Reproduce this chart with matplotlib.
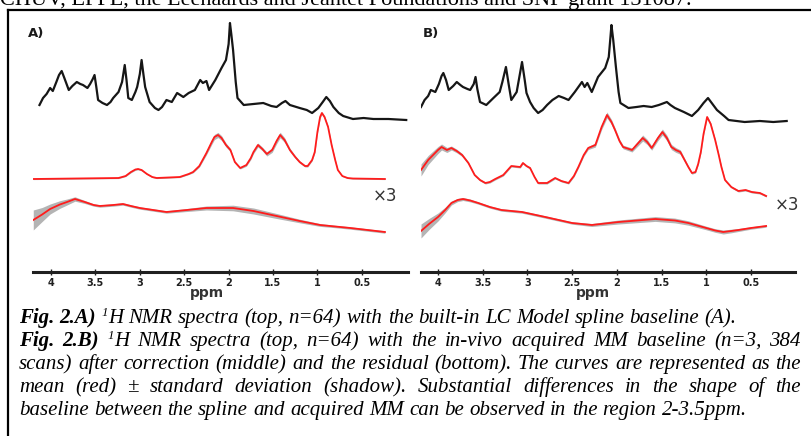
import matplotlib.pyplot as plt

W, H = 812, 436

# ---- panel A (LCModel spline baseline) ----
a_top_ppm = [4.13, 4.09, 4.05, 4.01, 3.98, 3.94, 3.91, 3.88, 3.85, 3.80, 3.76, 3.71, 3.67, 3.64,
             3.59, 3.56, 3.53, 3.51, 3.49, 3.47, 3.42, 3.37, 3.33, 3.30, 3.24, 3.20, 3.17, 3.15,
             3.13, 3.09, 3.05, 3.03, 3.00, 2.98, 2.96, 2.94, 2.89, 2.83, 2.79, 2.75, 2.70, 2.64,
             2.58, 2.51, 2.45, 2.38, 2.32, 2.29, 2.25, 2.22, 2.15, 2.08, 2.03, 2.00, 1.985, 1.97,
             1.95, 1.92, 1.90, 1.83, 1.72, 1.61, 1.52, 1.46, 1.40, 1.36, 1.31, 1.20, 1.12, 1.06,
             0.99, 0.94, 0.90, 0.86, 0.82, 0.76, 0.71, 0.60, 0.48, 0.37, 0.20, 0.00]
a_top_int = [167, 174, 178, 184, 181, 190, 197, 201, 194, 182, 186, 190, 188, 187,
             184, 188, 193, 197, 185, 172, 169, 167, 170, 174, 180, 190, 207, 192,
             174, 172, 180, 185, 198, 212, 198, 185, 170, 164, 162, 165, 172, 170,
             179, 175, 179, 182, 192, 189, 191, 182, 192, 204, 212, 228, 249, 238,
             222, 190, 174, 167, 168, 169, 166, 165, 169, 171, 167, 164, 162, 159,
             164, 170, 175, 171, 165, 159, 156, 153, 154, 153, 153, 152]

a_mid_ppm = [4.20, 3.24, 3.16, 3.10, 3.05, 3.02, 2.98, 2.92, 2.86, 2.81, 2.55, 2.45, 2.40, 2.33,
             2.25, 2.19, 2.16, 2.12, 2.08, 2.03, 1.98, 1.93, 1.87, 1.80, 1.75, 1.72, 1.67, 1.62,
             1.57, 1.51, 1.46, 1.42, 1.37, 1.31, 1.25, 1.20, 1.14, 1.11, 1.06, 1.03, 1.00, 0.97,
             0.95, 0.92, 0.88, 0.84, 0.80, 0.77, 0.72, 0.66, 0.60, 0.24]
a_mid_int = [93, 94, 96, 100, 102.5, 103, 102, 98, 95, 94, 95, 98, 100, 106,
             119, 130, 135, 137, 134, 127, 122, 110, 104, 107, 114, 120, 127, 123,
             118, 122, 131, 137, 132, 122, 115, 110, 106, 106, 112, 120, 140, 155,
             159, 155, 145, 127, 112, 102, 96, 94, 93.5, 93]
a_mid_sd = [0.6, 0.6, 0.6, 0.8, 0.8, 0.8, 0.8, 0.6, 0.6, 0.6, 0.6, 0.6, 0.8, 1.2,
            1.8, 2.4, 2.6, 2.6, 2.4, 2.0, 1.6, 1.2, 1.0, 1.2, 1.5, 1.6, 2.0, 1.8,
            2.0, 2.4, 2.8, 2.8, 2.4, 1.8, 1.4, 1.2, 1.0, 1.0, 1.0, 1.2, 1.4, 1.4,
            1.4, 1.4, 1.2, 1.0, 0.8, 0.6, 0.6, 0.6, 0.6, 0.6]

a_res_ppm = [4.20, 4.10, 4.01, 3.90, 3.82, 3.73, 3.62, 3.52, 3.45, 3.30, 3.19, 3.10, 3.00, 2.85,
             2.70, 2.47, 2.25, 1.95, 1.72, 1.46, 1.20, 0.97, 0.80, 0.63, 0.24]
a_res_int = [52, 57.5, 63, 67.5, 70, 73, 70, 67, 66, 67, 68, 66, 64, 62,
             60, 62, 64, 64, 61, 56, 51, 47, 45.5, 44, 40]
a_res_sd = [10, 7, 5, 3.8, 3, 2.2, 1.5, 1.2, 1.2, 1.2, 1.2, 1.2, 1.2, 1.2,
            1.2, 1.5, 2.0, 2.8, 3.0, 2.5, 1.8, 1.4, 1.2, 1.2, 1.2]

# ---- panel B (acquired MM baseline) ----
b_top_ppm = [4.19, 4.15, 4.11, 4.08, 4.03, 3.99, 3.96, 3.94, 3.91, 3.88, 3.83, 3.79, 3.75, 3.72,
             3.67, 3.64, 3.60, 3.58, 3.56, 3.53, 3.46, 3.38, 3.31, 3.28, 3.24, 3.21, 3.18, 3.12,
             3.09, 3.06, 3.03, 3.01, 2.97, 2.93, 2.88, 2.83, 2.78, 2.72, 2.65, 2.59, 2.54, 2.47,
             2.39, 2.36, 2.33, 2.28, 2.21, 2.13, 2.09, 2.07, 2.06, 2.04, 2.01, 1.98, 1.96, 1.87,
             1.78, 1.70, 1.61, 1.53, 1.44, 1.40, 1.35, 1.25, 1.16, 1.09, 1.03, 0.98, 0.93, 0.88,
             0.80, 0.75, 0.66, 0.57, 0.40, 0.25, 0.10]
b_top_int = [165, 172, 176, 182, 180, 188, 196, 199, 192, 182, 186, 190, 187, 185,
             183, 182, 188, 195, 183, 170, 167, 174, 180, 190, 205, 188, 172, 180,
             195, 210, 192, 179, 170, 164, 159, 162, 167, 172, 176, 174, 172, 180,
             190, 185, 189, 180, 195, 204, 215, 236, 247, 232, 205, 180, 169, 164,
             165, 166, 165, 167, 170, 167, 164, 160, 156, 162, 169, 174, 168, 162,
             156, 152, 151, 150, 151, 150, 151]

b_mid_ppm = [4.19, 4.11, 4.00, 3.96, 3.90, 3.85, 3.79, 3.73, 3.66, 3.59, 3.53, 3.47, 3.42, 3.36,
             3.27, 3.18, 3.08, 3.05, 3.01, 2.97, 2.92, 2.88, 2.78, 2.69, 2.62, 2.54, 2.48, 2.43,
             2.37, 2.32, 2.24, 2.17, 2.11, 2.06, 2.02, 1.97, 1.93, 1.83, 1.76, 1.71, 1.66, 1.61,
             1.54, 1.49, 1.44, 1.39, 1.34, 1.29, 1.20, 1.16, 1.12, 1.09, 1.06, 1.03, 0.99, 0.95,
             0.90, 0.86, 0.83, 0.79, 0.72, 0.64, 0.56, 0.49, 0.40, 0.33]
b_mid_int = [102, 112, 122, 125, 122, 124, 121, 117, 109, 97, 92, 89, 90, 93,
             97, 106, 105, 109, 106, 104, 95, 89, 89, 94, 91, 89, 96, 105,
             117, 124, 127, 145, 157, 150, 142, 131, 125, 122, 129, 134, 130, 124,
             134, 140, 134, 125, 122, 120, 105, 99, 100, 108, 120, 138, 155, 148,
             132, 117, 105, 92, 85, 81, 82, 80, 79, 76]
b_mid_sd = [6, 4.5, 3.5, 3, 2.5, 2, 1.8, 1.5, 1.2, 1, 1, 1, 1, 1,
            1, 1, 1, 1, 1, 1, 1, 1, 1, 1, 1, 1, 1, 1.2,
            1.4, 1.6, 2, 2.6, 3, 2.6, 2.2, 2.0, 1.8, 2, 2.6, 3, 2.6, 2.2,
            2.6, 3, 2.8, 2.6, 2.4, 2.2, 1.4, 1.2, 1.0, 1, 1.1, 1.2, 1.4, 1.4,
            1.2, 1.0, 1, 1, 1, 1, 1, 1, 1, 1]

b_res_ppm = [4.19, 4.10, 4.00, 3.92, 3.85, 3.78, 3.72, 3.64, 3.55, 3.42, 3.29, 3.06, 2.80, 2.50,
             2.28, 1.98, 1.57, 1.35, 1.20, 1.00, 0.90, 0.81, 0.72, 0.64, 0.50, 0.33]
b_res_int = [41, 48, 55, 62, 69, 72, 73, 71.5, 69, 65, 62, 60, 55, 49,
             47, 50, 53, 51.5, 49, 44, 41.5, 40, 41, 42, 44, 46]
b_res_sd = [7, 5.5, 4, 2.8, 2, 1.6, 1.5, 1.4, 1.2, 1.2, 1.2, 1.2, 1.2, 1.2,
            1.5, 2.0, 2.4, 2.4, 2.2, 1.8, 1.8, 2.0, 1.8, 1.5, 1.2, 1.2]

tick_vals = [4, 3.5, 3, 2.5, 2, 1.5, 1, 0.5]
tick_text = ["4", "3.5", "3", "2.5", "2", "1.5", "1", "0.5"]

header = "CHUV, EPFL, the Leenaards and Jeantet Foundations and SNF grant 131087."
caption = [
    "Fig. 2.A) ¹H NMR spectra (top, n=64) with the built-in LC Model spline baseline (A).",
    "Fig. 2.B) ¹H NMR spectra (top, n=64) with the in-vivo acquired MM baseline (n=3, 384",
    "scans) after correction (middle) and the residual (bottom). The curves are represented as the",
    "mean (red) ± standard deviation (shadow). Substantial differences in the shape of the",
    "baseline between the spline and acquired MM can be observed in the region 2-3.5ppm.",
]
justified = [False, True, True, True, False]
bold_words = {"Fig.", "2.A)", "2.B)"}

BLACK = "#161616"
RED = "#ff1c1c"
SHADOW = "#b4b4b4"


def px(x, y):
    # pixel (from top-left) -> figure fraction
    return x / W, 1 - y / H


def panel(fig, left, right, xlim, top, mid, res, label, label_xy, x3_xy, ppm_x):
    axis_y, top_y = 272, 12
    ax = fig.add_axes([left / W, 1 - axis_y / H, (right - left) / W, (axis_y - top_y) / H])
    ax.set_xlim(*xlim)
    ax.set_ylim(0, axis_y - top_y)
    ax.patch.set_alpha(0)

    ax.plot(top[0], top[1], color=BLACK, lw=1.6, solid_joinstyle="round")
    for ppm, val, sd in (mid, res):
        lo = [v - s for v, s in zip(val, sd)]
        hi = [v + s for v, s in zip(val, sd)]
        ax.fill_between(ppm, lo, hi, color=SHADOW, lw=0)
        ax.plot(ppm, val, color=RED, lw=1.3, solid_joinstyle="round")

    for s in ("top", "right", "left"):
        ax.spines[s].set_visible(False)
    ax.spines["bottom"].set_linewidth(2.2)
    ax.spines["bottom"].set_color("#202020")
    ax.set_yticks([])
    ax.set_xticks(tick_vals)
    ax.set_xticklabels(tick_text, fontsize=7, fontweight="bold", color="#2a2a2a")
    ax.tick_params(axis="x", direction="inout", length=4, width=1, pad=2.5, colors="#202020")

    fig.text(*px(*label_xy), label, fontsize=9.5, fontweight="bold", color="#1a1a1a",
             ha="left", va="center")
    fig.text(*px(*x3_xy), "×3", fontsize=12, color="#333333", ha="left", va="center")
    fig.text(*px(ppm_x, 293), "ppm", fontsize=10, fontweight="bold", color="#333333",
             ha="center", va="center")
    return ax


fig = plt.figure(figsize=(W / 100, H / 100), dpi=100)

panel(fig, 33, 408, (4.203, -0.02),
      (a_top_ppm, a_top_int),
      (a_mid_ppm, a_mid_int, a_mid_sd),
      (a_res_ppm, a_res_int, a_res_sd),
      "A)", (28, 33), (373, 196), 207)
panel(fig, 421, 795, (4.19, 0.007),
      (b_top_ppm, b_top_int),
      (b_mid_ppm, b_mid_int, b_mid_sd),
      (b_res_ppm, b_res_int, b_res_sd),
      "B)", (423, 33), (775, 205), 593)

# frame around the figure
fig.add_artist(plt.Line2D([8 / W, 8 / W], [0, 1 - 10 / H], transform=fig.transFigure,
                          color="black", lw=1.6))
fig.add_artist(plt.Line2D([8 / W, 1], [1 - 10 / H, 1 - 10 / H], transform=fig.transFigure,
                          color="black", lw=1.6))

serif = "Liberation Serif"
fs = 15
fig.text(0, 1 - 5 / H, header, family=serif, fontsize=16, ha="left", va="baseline")

renderer = fig.canvas.get_renderer()
x_left, x_right = 19, 801
line_y = [323, 346, 369, 392, 415]


def draw_word(word, x, y, measure_only=False):
    """Draw one word at pixel x (baseline y); returns its width in pixels."""
    pieces = []
    if word in bold_words:
        pieces.append((word, "bold", fs, 0))
    elif word.startswith("¹"):
        pieces.append(("1", "normal", fs * 0.62, 7))
        pieces.append((word[1:], "normal", fs, 0))
    else:
        pieces.append((word, "normal", fs, 0))
    width = 0
    for txt, weight, size, dy in pieces:
        t = fig.text(*px(x + width, y - dy), txt, family=serif, style="italic",
                     weight=weight, fontsize=size, ha="left", va="baseline")
        width += t.get_window_extent(renderer).width
        if measure_only:
            t.remove()
    return width


for line, just, y in zip(caption, justified, line_y):
    words = line.split(" ")
    widths = [draw_word(w, 0, y, measure_only=True) for w in words]
    space = draw_word("a a", 0, y, True) - 2 * draw_word("a", 0, y, True)
    if just:
        space = (x_right - x_left - sum(widths)) / (len(words) - 1)
    x = x_left
    for w, wd in zip(words, widths):
        draw_word(w, x, y)
        x += wd + space

fig.savefig("out.png", dpi=100)
